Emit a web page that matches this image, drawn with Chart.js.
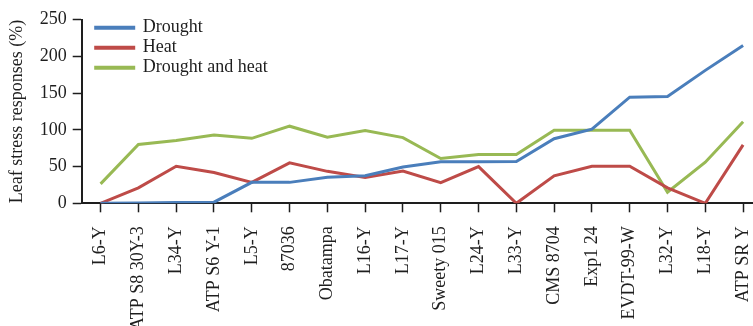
<!DOCTYPE html>
<html>
<head>
<meta charset="utf-8">
<script src="https://cdn.jsdelivr.net/npm/chart.js@4/dist/chart.umd.min.js"></script>
<style>
  html, body { margin: 0; padding: 0; background: #fff; overflow: hidden; }
  #wrap { position: relative; width: 762px; height: 326px; }
</style>
</head>
<body>
<div id="wrap"><canvas id="chart"></canvas></div>
<script>
// Genotypes along the x axis
const categories = ['L6-Y', 'ATP S8 30Y-3', 'L34-Y', 'ATP S6 Y-1', 'L5-Y', '87036', 'Obatampa',
  'L16-Y', 'L17-Y', 'Sweety 015', 'L24-Y', 'L33-Y', 'CMS 8704', 'Exp1 24', 'EVDT-99-W',
  'L32-Y', 'L18-Y', 'ATP SR Y'];

// Leaf stress responses (%) per treatment
const drought = [0, 0.5, 1, 1.5, 28.5, 28.5, 35.5, 37.5, 49.5, 56.5, 56.5, 57, 88, 101, 144.5, 145.5, 181, 215];
const heat = [0, 21, 50.5, 42, 28.5, 55, 43.5, 35, 44, 28, 50, 0, 37.5, 50.5, 50.5, 21, 0, 79.5];
const droughtAndHeat = [26.5, 80, 85.5, 93, 88.5, 105, 90, 99, 89.5, 61, 66.5, 66.5, 99.5, 99.5, 99.5, 15, 56, 111];

const yTicks = [0, 50, 100, 150, 200, 250];
const seriesNames = ['Drought', 'Heat', 'Drought and heat'];

const FONT = "'Liberation Serif', 'Times New Roman', serif";
const INK = '#1e1e1e';

function line(label, data, color) {
  return {
    label, data,
    borderColor: color,
    backgroundColor: color,
    borderWidth: 3,
    pointRadius: 0,
    tension: 0,
    fill: false
  };
}

// Places the legend box in the top-left corner of the plot
const legendPlacement = {
  id: 'legendPlacement',
  afterLayout(chart) {
    const lg = chart.legend;
    const ca = chart.chartArea;
    if (!lg || !ca) return;
    const w = lg.right - lg.left;
    const h = lg.bottom - lg.top;
    lg.left = ca.left + 12;
    lg.top = ca.top - 3;
    lg.right = lg.left + w;
    lg.bottom = lg.top + h;
  }
};

new Chart(document.getElementById('chart'), {
  type: 'line',
  data: {
    labels: categories,
    datasets: [
      line(seriesNames[0], drought, '#4A7EBB'),
      line(seriesNames[1], heat, '#BE4B48'),
      line(seriesNames[2], droughtAndHeat, '#98B954')
    ]
  },
  options: {
    responsive: true,
    maintainAspectRatio: false,
    animation: false,
    layout: { padding: { top: 19.7, left: 0, right: 0, bottom: 0 } },
    plugins: {
      tooltip: { enabled: false },
      legend: {
        position: 'chartArea',
        align: 'start',
        labels: {
          font: { family: FONT, size: 18, lineHeight: 1 },
          color: INK,
          boxWidth: 38,
          boxHeight: 1,
          padding: 2
        }
      }
    },
    scales: {
      x: {
        type: 'category',
        offset: true,
        afterFit(scale) {
          scale.height = 122.7;
          scale.paddingLeft = 0;
          scale.paddingRight = 0;
        },
        grid: {
          offset: false,
          drawOnChartArea: false,
          drawTicks: true,
          tickLength: 9,
          tickWidth: 1.5,
          tickColor: INK,
          color: INK
        },
        border: { display: true, color: INK, width: 2 },
        ticks: {
          autoSkip: false,
          minRotation: 90,
          maxRotation: 90,
          padding: 14,
          color: INK,
          font: { family: FONT, size: 18 }
        }
      },
      y: {
        min: 0,
        max: 250,
        afterFit(scale) { scale.width = 81.7; },
        afterBuildTicks(scale) { scale.ticks = yTicks.map(v => ({ value: v })); },
        grid: {
          drawOnChartArea: false,
          drawTicks: true,
          tickLength: 9,
          tickWidth: 1.5,
          tickColor: INK,
          color: INK
        },
        border: { display: true, color: INK, width: 2 },
        ticks: {
          padding: 6,
          color: INK,
          font: { family: FONT, size: 18 }
        },
        title: {
          display: true,
          text: 'Leaf stress responses (%)',
          color: INK,
          font: { family: FONT, size: 18 },
          padding: { top: 6, bottom: 0 }
        }
      }
    }
  },
  plugins: [legendPlacement]
});
</script>
</body>
</html>
